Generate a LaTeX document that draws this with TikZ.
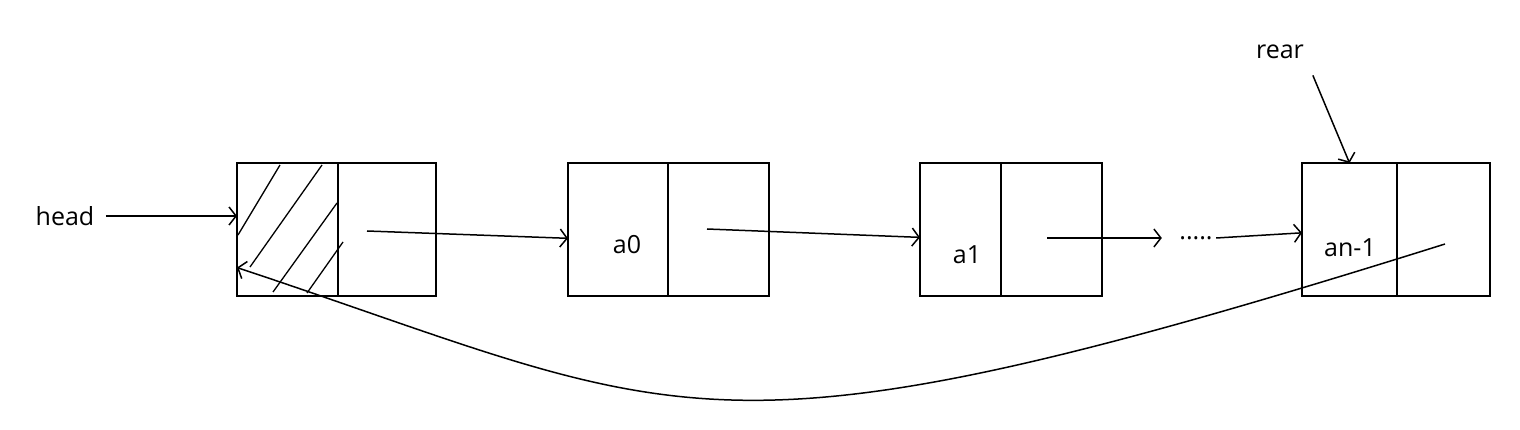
\documentclass[tikz,border=0pt]{standalone}
\usepackage{fontspec}
\setmainfont{Open Sans}
\usetikzlibrary{arrows.meta, positioning}

\begin{document}
\begin{tikzpicture}[
        x=1pt, y=-1pt,
        node distance = 0pt and 0pt,
        cell/.style = {rectangle, draw, line width=2pt, minimum height=133pt, outer sep=0pt, inner sep=0pt},
        pil/.style = {black, line width=1.5pt, -{Straight Barb[length=7pt,width=18pt]}},
        hatch/.style = {black, line width=1.3pt},
        font=\fontsize{25}{30}\selectfont
        ]
        \useasboundingbox (0,0) rectangle (1520,430);

        \node[cell, minimum width=101pt] (d0) at (287.5,229.5) {};
        \node[cell, minimum width=98pt] (p0) [right=of d0] {};
        \node[cell, minimum width=100pt] (d1) at (618,229.5) {};
        \node[cell, minimum width=101pt] (p1) [right=of d1] {};
        \node[cell, minimum width=81pt] (d2) at (960.5,229.5) {};
        \node[cell, minimum width=101pt] (p2) [right=of d2] {};
        \node[cell, minimum width=95pt] (d3) at (1349.5,229.5) {};
        \node[cell, minimum width=93pt] (p3) [right=of d3] {};

        \node (head) at (65,216) {head};
        \node (rear) at (1280,52) {rear};
        \node (a0) at (627,245) {a0};
        \node (a1) at (967,255) {a1};
        \node (an) at (1350,248) {an-1};
        \node (dots) at (1196,238) {.....};

        % hatched head cell
        \draw[hatch] (238,235) -- (280,165)
        (250,267) -- (322,165)
        (273,292) -- (337,203)
        (307,293) -- (343,242);

        \coordinate (s0) at (367,231);
        \coordinate (s1) at (707,229);
        \coordinate (s2) at (1047,238);
        \coordinate (s3) at (1445,244);

        \draw[pil, shorten <=8pt] (head.east) -- (head.east -| d0.west);
        \draw[pil] (s0) -- (d1.190);
        \draw[pil] (s1) -- (d2.191);
        \draw[pil, shorten >=14pt] (s2) -- (dots.west);
        \draw[pil] (dots.east) -- (d3.184);
        \draw[pil, shorten <=14pt] (rear.south east) -- (d3.north);
        \draw[pil] (s3) .. controls (700,478) and (690,418) .. (d0.217);

      \end{tikzpicture}
\end{document}
